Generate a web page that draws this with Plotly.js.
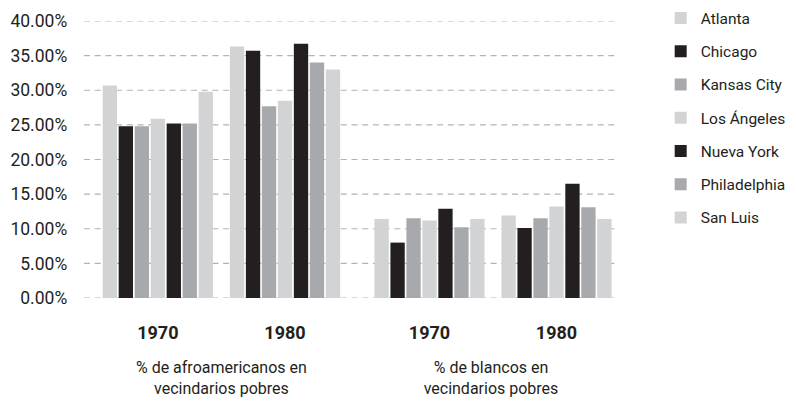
<!DOCTYPE html>
<html>
<head>
<meta charset="utf-8">
<script src="https://cdn.plot.ly/plotly-3.0.1.min.js"></script>
<style>html,body{margin:0;padding:0;background:#fff;}#chart{width:797px;height:406px;}</style>
</head>
<body>
<div id="chart"></div>
<script>
// ---- data ----
const cities = ["Atlanta", "Chicago", "Kansas City", "Los Ángeles", "Nueva York", "Philadelphia", "San Luis"];
const years = ["1970", "1980"];
const groupAfro = "% de afroamericanos en<br>vecindarios pobres";
const groupBlancos = "% de blancos en<br>vecindarios pobres";
// percent values, per city
const afro1970 = [30.7, 24.8, 24.8, 25.9, 25.2, 25.2, 29.8];
const afro1980 = [36.3, 35.7, 27.7, 28.5, 36.7, 34.0, 33.0];
const blancos1970 = [11.4, 8.0, 11.5, 11.2, 12.9, 10.2, 11.4];
const blancos1980 = [11.9, 10.1, 11.5, 13.2, 16.5, 13.1, 11.4];
const yTicks = [0, 5, 10, 15, 20, 25, 30, 35, 40];

// ---- styles ----
const LIGHT = "#d1d3d4", DARK = "#231f20", MID = "#a7a9ac";
const cityColors = [LIGHT, DARK, MID, LIGHT, DARK, MID, LIGHT];
const FONT = "Roboto, 'Liberation Sans', sans-serif";
const TXT = "#231f20";

const traces = [];
cities.forEach((c, i) => {
  traces.push({
    type: "bar", name: c, legendgroup: c, showlegend: true,
    x: years, y: [afro1970[i], afro1980[i]],
    xaxis: "x", yaxis: "y",
    marker: {color: cityColors[i], line: {width: 0}},
    hovertemplate: c + " %{x}: %{y:.1f}%<extra></extra>"
  });
});
cities.forEach((c, i) => {
  traces.push({
    type: "bar", name: c, legendgroup: c, showlegend: false,
    x: years, y: [blancos1970[i], blancos1980[i]],
    xaxis: "x2", yaxis: "y",
    marker: {color: cityColors[i], line: {width: 0}},
    hovertemplate: c + " %{x}: %{y:.1f}%<extra></extra>"
  });
});

const gridShapes = yTicks.map(v => ({
  type: "line", xref: "paper", yref: "y", x0: 0, x1: 1, y0: v, y1: v,
  layer: "below",
  line: {color: "#b3b3b3", width: 1.2, dash: "6px,4.7px"}
}));

const xCommon = {
  type: "category", showgrid: false, showline: false, zeroline: false,
  ticks: "", ticklabelstandoff: 22,
  tickfont: {family: FONT, size: 18, color: TXT, weight: 700},
  title: {font: {family: FONT, size: 16, color: TXT}, standoff: 19},
  fixedrange: true
};

const layout = {
  width: 797, height: 406,
  margin: {l: 84, r: 181, t: 21, b: 108, pad: 0, autoexpand: false},
  paper_bgcolor: "#fff", plot_bgcolor: "rgba(0,0,0,0)",
  font: {family: FONT, color: TXT, size: 16},
  barmode: "group", bargap: 0.12, bargroupgap: 0.104,
  showlegend: true,
  legend: {
    x: 1.084, xanchor: "left", y: 1.071, yanchor: "top",
    font: {family: FONT, size: 15.5, color: TXT},
    tracegroupgap: 10.1, bgcolor: "rgba(0,0,0,0)", borderwidth: 0,
    maxheight: 400
  },
  xaxis: Object.assign({}, xCommon, {
    domain: [0.0192, 0.4974], range: [-0.5, 1.5], anchor: "y",
    title: Object.assign({}, xCommon.title, {text: groupAfro})
  }),
  xaxis2: Object.assign({}, xCommon, {
    domain: [0.5301, 1], range: [-0.5, 1.4685], anchor: "y",
    title: Object.assign({}, xCommon.title, {text: groupBlancos})
  }),
  yaxis: {
    range: [0, 40], tickmode: "array", tickvals: yTicks,
    ticktext: yTicks.map(v => v.toFixed(2) + "%"),
    showgrid: false, zeroline: false, showline: false, ticks: "",
    ticklabelstandoff: 26,
    tickfont: {family: FONT, size: 17.5, color: TXT},
    fixedrange: true
  },
  shapes: gridShapes
};

Plotly.newPlot("chart", traces, layout, {displayModeBar: false, staticPlot: true});
</script>
</body>
</html>
